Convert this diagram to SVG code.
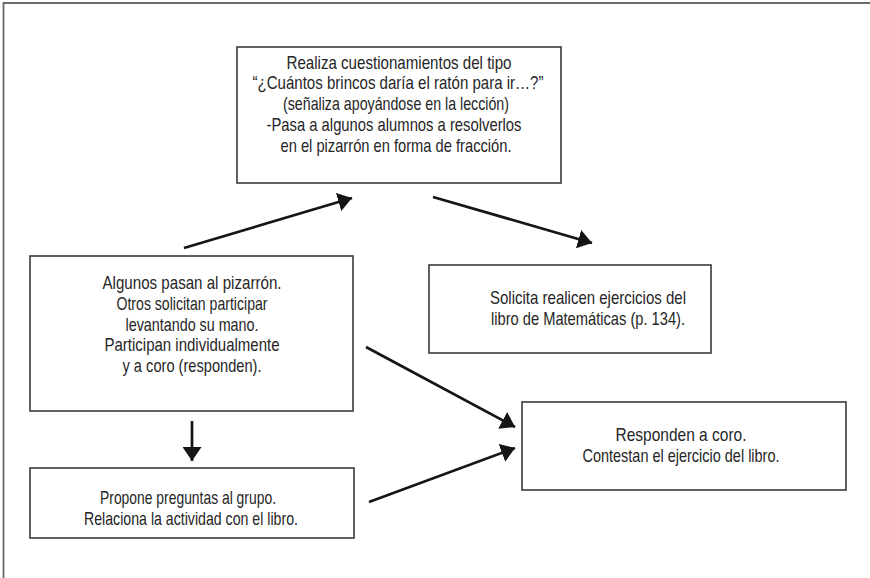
<svg xmlns="http://www.w3.org/2000/svg" width="870" height="578" viewBox="0 0 870 578">
<style>
.box{fill:#fff;stroke:#3a3a3a;stroke-width:1.6}
.t{font-family:"Liberation Sans",Arial,sans-serif;font-size:18.5px;fill:#262626;text-anchor:middle}
.c{stroke:#151515;stroke-width:2.7;fill:none;marker-end:url(#ah)}
</style>
<defs>
<marker id="ah" viewBox="0 0 14 19" refX="14" refY="9.5" markerWidth="14" markerHeight="19" orient="auto" markerUnits="userSpaceOnUse">
<path d="M0,0 L14,9.5 L0,19 z" fill="#151515"/>
</marker>
</defs>
<rect width="870" height="578" fill="#fff"/>
<path d="M3.5,578 V3 H870" fill="none" stroke="#6a6a6a" stroke-width="1.8"/>
<g id="n-top">
<rect class="box" x="237" y="47" width="324" height="136"/>
<text class="t" x="399" y="68.5" textLength="225" lengthAdjust="spacingAndGlyphs">Realiza cuestionamientos del tipo</text>
<text class="t" x="398" y="89.3" textLength="291" lengthAdjust="spacingAndGlyphs">“¿Cuántos brincos daría el ratón para ir…?”</text>
<text class="t" x="396" y="110" textLength="226" lengthAdjust="spacingAndGlyphs">(señaliza apoyándose en la lección)</text>
<text class="t" x="394" y="130.8" textLength="255" lengthAdjust="spacingAndGlyphs">-Pasa a algunos alumnos a resolverlos</text>
<text class="t" x="396" y="151.6" textLength="231" lengthAdjust="spacingAndGlyphs">en el pizarrón en forma de fracción.</text>
</g>
<g id="n-left">
<rect class="box" x="30" y="256" width="323" height="155"/>
<text class="t" x="192" y="289" textLength="179" lengthAdjust="spacingAndGlyphs">Algunos pasan al pizarrón.</text>
<text class="t" x="192" y="309.8" textLength="151" lengthAdjust="spacingAndGlyphs">Otros solicitan participar</text>
<text class="t" x="192" y="330.6" textLength="133" lengthAdjust="spacingAndGlyphs">levantando su mano.</text>
<text class="t" x="192" y="351.4" textLength="175" lengthAdjust="spacingAndGlyphs">Participan individualmente</text>
<text class="t" x="192" y="372.2" textLength="139" lengthAdjust="spacingAndGlyphs">y a coro (responden).</text>
</g>
<g id="n-solicita">
<rect class="box" x="429" y="265" width="282" height="88"/>
<text class="t" x="588" y="304" textLength="196" lengthAdjust="spacingAndGlyphs">Solicita realicen ejercicios del</text>
<text class="t" x="588" y="325" textLength="194" lengthAdjust="spacingAndGlyphs">libro de Matemáticas (p. 134).</text>
</g>
<g id="n-responden">
<rect class="box" x="522" y="402" width="324" height="88"/>
<text class="t" x="681" y="441" textLength="131" lengthAdjust="spacingAndGlyphs">Responden a coro.</text>
<text class="t" x="681" y="462" textLength="197" lengthAdjust="spacingAndGlyphs">Contestan el ejercicio del libro.</text>
</g>
<g id="n-propone">
<rect class="box" x="30" y="468" width="324" height="70"/>
<text class="t" x="188" y="503.5" textLength="176" lengthAdjust="spacingAndGlyphs">Propone preguntas al grupo.</text>
<text class="t" x="191" y="524.5" textLength="214" lengthAdjust="spacingAndGlyphs">Relaciona la actividad con el libro.</text>
</g>
<g id="connectors">
<line class="c" x1="184" y1="248" x2="352" y2="198"/>
<line class="c" x1="433" y1="197" x2="592" y2="243"/>
<line class="c" x1="366" y1="347" x2="515" y2="427"/>
<line class="c" x1="369" y1="502" x2="515" y2="448"/>
<line class="c" x1="192" y1="421" x2="192" y2="461"/>
</g>
</svg>
